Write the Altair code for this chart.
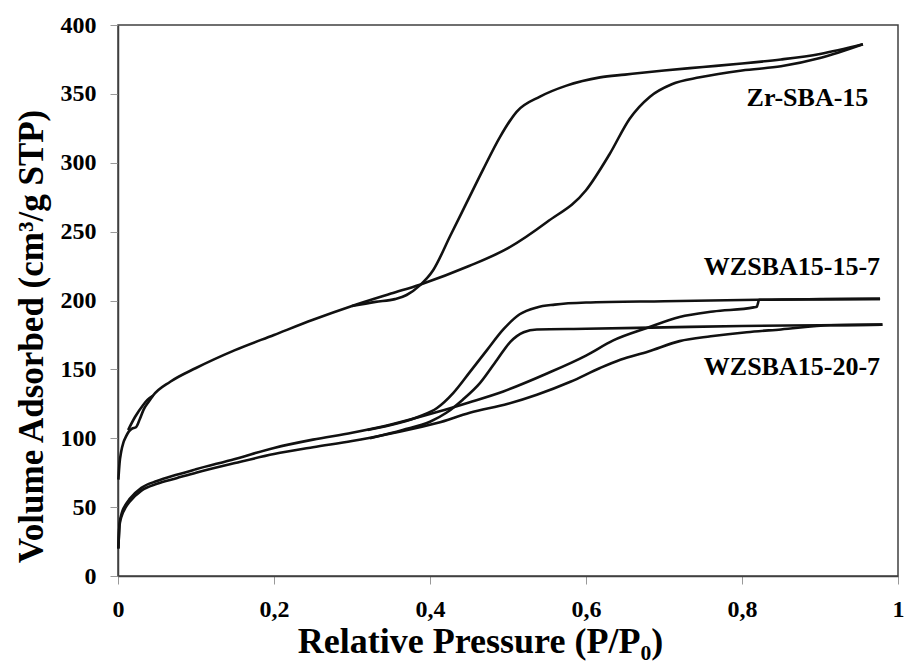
import altair as alt
import pandas as pd

# ---------------- data ----------------
zr_ads_p = [0.0005, 0.002, 0.004, 0.007, 0.010, 0.014, 0.018, 0.023, 0.028, 0.033, 0.040, 0.045,
            0.067, 0.10, 0.15, 0.20, 0.25, 0.30, 0.35, 0.387, 0.45, 0.50, 0.55, 0.60, 0.63, 0.656,
            0.682, 0.71, 0.746, 0.80, 0.85, 0.90, 0.955]
zr_ads_v = [70, 82, 90, 97, 101, 105, 107, 108, 114, 121, 127, 131,
            141, 151, 164, 175, 186, 196, 205, 211.5, 225, 238, 257, 280, 306, 332,
            348, 357, 362, 367, 370, 376, 386]

zr_des_low_p = [0.013, 0.022, 0.032, 0.038, 0.045]
zr_des_low_v = [106, 115.6, 124, 128, 131]

zr_des_p = [0.30, 0.33, 0.355, 0.37, 0.387, 0.404, 0.426, 0.447, 0.468, 0.49, 0.511, 0.541,
            0.575, 0.618, 0.65, 0.70, 0.75, 0.80, 0.85, 0.90, 0.955]
zr_des_v = [196, 199, 201, 204, 211, 222, 247, 271, 295, 319, 337, 348,
            356, 362, 364, 367, 369.5, 372, 375, 379, 386]

w15_ads_p = [0.0005, 0.002, 0.005, 0.01, 0.015, 0.03, 0.05, 0.075, 0.10, 0.15, 0.20, 0.25,
             0.30, 0.35, 0.409, 0.45, 0.494, 0.55, 0.60, 0.635, 0.678, 0.72, 0.763, 0.815,
             0.819, 0.822, 0.90, 0.977]
w15_ads_v = [20, 38, 46, 52, 56, 64, 69, 73.5, 77.5, 85, 93, 99,
             104, 110, 119, 126, 134, 147, 160, 171, 180, 188, 192, 195,
             195.5, 200.5, 201, 201.2]

w15_des_p = [0.32, 0.36, 0.387, 0.409, 0.43, 0.451, 0.473, 0.494, 0.515, 0.537, 0.56, 0.60,
             0.70, 0.82, 0.977]
w15_des_v = [106, 111, 116, 122, 133, 148, 164, 179, 190, 195, 197, 198.5,
             199.5, 200.5, 201.2]

w20_ads_p = [0.0005, 0.002, 0.005, 0.01, 0.015, 0.03, 0.05, 0.075, 0.10, 0.15, 0.20, 0.25,
             0.30, 0.35, 0.409, 0.451, 0.50, 0.537, 0.58, 0.618, 0.644, 0.68, 0.72, 0.76,
             0.806, 0.85, 0.913, 0.98]
w20_ads_v = [20, 37, 44, 50, 54, 62, 67, 71, 75, 82, 88.5, 93.5,
             98, 103.5, 111, 118.5, 125, 131.6, 141, 151, 157, 163, 170.5, 174,
             177, 179, 182, 182.5]

w20_des_p = [0.323, 0.365, 0.40, 0.421, 0.442, 0.464, 0.486, 0.503, 0.52, 0.537, 0.60, 0.70,
             0.80, 0.90, 0.98]
w20_des_v = [100, 106, 112, 118.5, 128, 140, 157, 170, 177, 179, 179.5, 180.5,
             181.5, 182, 182.5]

label_text = ["Zr-SBA-15", "WZSBA15-15-7", "WZSBA15-20-7"]
label_p = [0.962, 0.977, 0.977]
label_v = [347, 224, 152]

x_ticks = [0, 0.2, 0.4, 0.6, 0.8, 1.0]
y_ticks = [0, 50, 100, 150, 200, 250, 300, 350, 400]

# ---------------- build table ----------------
branches = [
    ("zr_ads", zr_ads_p, zr_ads_v),
    ("zr_des_low", zr_des_low_p, zr_des_low_v),
    ("zr_des", zr_des_p, zr_des_v),
    ("w15_ads", w15_ads_p, w15_ads_v),
    ("w15_des", w15_des_p, w15_des_v),
    ("w20_ads", w20_ads_p, w20_ads_v),
    ("w20_des", w20_des_p, w20_des_v),
]
rows = []
for name, ps, vs in branches:
    for p, v in zip(ps, vs):
        rows.append({"branch": name, "p": p, "v": v})
df = pd.DataFrame(rows)
labels = pd.DataFrame({"text": label_text, "p": label_p, "v": label_v})

FONT = "Liberation Serif"

xscale = alt.Scale(domain=[0, 1], nice=False, zero=False)
yscale = alt.Scale(domain=[0, 400], nice=False)

xaxis = alt.Axis(values=x_ticks, title="Relative Pressure (P/P\u2080)",
                 labelExpr="replace(format(datum.value, '~g'), '.', ',')",
                 labelFlush=False, labelBaseline="alphabetic", labelPadding=32,
                 titleX=362, titleY=76, titleBaseline="alphabetic", titleAlign="center",
                 titleFontSize=36)
yaxis = alt.Axis(values=y_ticks, title="Volume Adsorbed (cm\u00b3/g STP)",
                 labelFlush=False, labelPadding=14,
                 titleX=-76, titleY=311, titleBaseline="alphabetic", titleAlign="center",
                 titleAngle=270, titleFontSize=35)

lines = alt.Chart(df).mark_line(color="#111111", strokeWidth=2.6, interpolate="monotone").encode(
    x=alt.X("p:Q", scale=xscale, axis=xaxis),
    y=alt.Y("v:Q", scale=yscale, axis=yaxis),
    detail="branch:N",
    order="p:Q",
)

texts = alt.Chart(labels).mark_text(font=FONT, fontWeight="bold", fontSize=26, align="right",
                                    baseline="middle", color="#000000").encode(
    x=alt.X("p:Q", scale=xscale),
    y=alt.Y("v:Q", scale=yscale),
    text="text:N",
)

chart = (lines + texts).properties(
    width=780, height=551,
    autosize=alt.AutoSizeParams(type="none"),
    padding={"left": 118, "top": 25, "right": 9, "bottom": 92},
    background="white",
).configure_view(
    stroke="#404040", strokeWidth=1.5
).configure_axis(
    grid=False,
    domainColor="#404040", domainWidth=1.5,
    tickColor="#999999", tickSize=8, tickWidth=1,
    labelFont=FONT, labelFontWeight="bold", labelFontSize=24, labelColor="#000000",
    titleFont=FONT, titleFontWeight="bold", titleColor="#000000",
)

chart.save("out.html", embed_options={"renderer": "svg", "actions": False})
